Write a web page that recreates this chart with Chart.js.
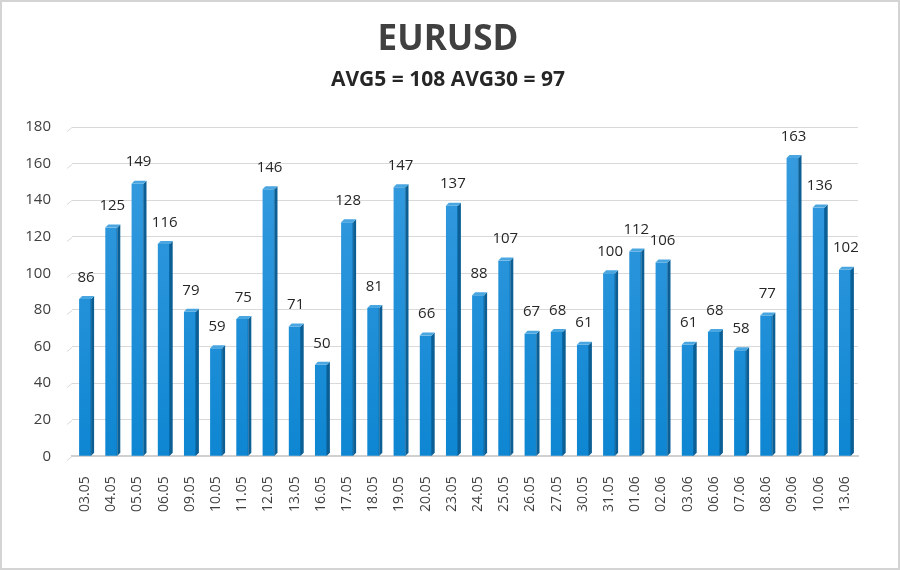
<!DOCTYPE html>
<html>
<head>
<meta charset="utf-8">
<script src="https://cdn.jsdelivr.net/npm/chart.js@4/dist/chart.umd.min.js"></script>
<style>
html,body{margin:0;padding:0;background:#fff;}
#wrap{position:relative;width:896px;height:566px;border:2px solid #d4d4d4;background:#fff;}
canvas{display:block;}
</style>
</head>
<body>
<div id="wrap"><canvas id="c" width="896" height="566"></canvas></div>
<script>
const titleText = "EURUSD";
const subtitleText = "AVG5 = 108 AVG30 = 97";
const categories = ["03.05","04.05","05.05","06.05","09.05","10.05","11.05","12.05","13.05","16.05","17.05","18.05","19.05","20.05","23.05","24.05","25.05","26.05","27.05","30.05","31.05","01.06","02.06","03.06","06.06","07.06","08.06","09.06","10.06","13.06"];
const values = [86,125,149,116,79,59,75,146,71,50,128,81,147,66,137,88,107,67,68,61,100,112,106,61,68,58,77,163,136,102];
const yTicks = [0,20,40,60,80,100,120,140,160,180];

const FONT = "'Open Sans', 'Noto Sans', sans-serif";

const titles = {
  id: 'titles',
  afterDraw(chart) {
    const ctx = chart.ctx;
    ctx.save();
    ctx.textAlign = 'center';
    ctx.textBaseline = 'middle';
    ctx.fillStyle = '#404040';
    ctx.font = "bold 35px " + FONT;
    ctx.fillText(titleText, 446, 38);
    ctx.fillStyle = '#262626';
    ctx.font = "bold 21px " + FONT;
    ctx.fillText(subtitleText, 446, 78);
    ctx.restore();
  }
};

// small perspective stubs at the left end of each grid line (3D wall look)
const gridStubs = {
  id: 'gridStubs',
  beforeDatasetsDraw(chart) {
    const ctx = chart.ctx;
    const y = chart.scales.y;
    const left = chart.chartArea.left;
    ctx.save();
    ctx.strokeStyle = '#d9d9d9';
    ctx.lineWidth = 1;
    y.ticks.forEach(t => {
      const py = Math.round(y.getPixelForValue(t.value)) + 0.5;
      ctx.beginPath();
      ctx.moveTo(left - 5, py + 4);
      ctx.lineTo(left, py);
      ctx.stroke();
    });
    ctx.restore();
  }
};

const bar3d = {
  id: 'bar3d',
  afterDatasetsDraw(chart) {
    const ctx = chart.ctx;
    const meta = chart.getDatasetMeta(0);
    const d = 3;
    ctx.save();
    meta.data.forEach((el, i) => {
      const w = el.width;
      const l = el.x - w / 2, r = el.x + w / 2;
      const top = el.y, bot = el.base;
      ctx.fillStyle = '#0b5f95';
      ctx.beginPath();
      ctx.moveTo(r, top);
      ctx.lineTo(r + d, top - d);
      ctx.lineTo(r + d, bot - d);
      ctx.lineTo(r, bot);
      ctx.closePath();
      ctx.fill();
      ctx.fillStyle = '#4aa6e0';
      ctx.beginPath();
      ctx.moveTo(l, top);
      ctx.lineTo(l + d, top - d);
      ctx.lineTo(r + d, top - d);
      ctx.lineTo(r, top);
      ctx.closePath();
      ctx.fill();
      ctx.fillStyle = '#262626';
      ctx.font = "15px " + FONT;
      ctx.textAlign = 'center';
      ctx.textBaseline = 'bottom';
      ctx.fillText(String(values[i]), el.x + 1, top - 14);
    });
    ctx.restore();
  }
};

const ctx = document.getElementById('c').getContext('2d');
new Chart(ctx, {
  type: 'bar',
  data: {
    labels: categories,
    datasets: [{
      data: values,
      backgroundColor: (c) => {
        const a = c.chart.chartArea;
        if (!a) return '#1a8ad4';
        const g = c.chart.ctx.createLinearGradient(0, a.top, 0, a.bottom);
        g.addColorStop(0, '#3a9de0');
        g.addColorStop(1, '#0e86d2');
        return g;
      },
      borderColor: '#0a6fb0',
      borderWidth: {left: 0, right: 1, top: 0, bottom: 0},
      barThickness: 12
    }]
  },
  options: {
    responsive: false,
    animation: false,
    layout: {padding: {left: 0, right: 40, top: 125, bottom: 36}},
    plugins: {
      legend: {display: false},
      tooltip: {enabled: false},
      title: {display: false},
      subtitle: {display: false}
    },
    scales: {
      x: {
        grid: {display: false, drawTicks: false},
        border: {display: true, color: '#d0d0d0', width: 2},
        ticks: {
          color: '#404040', font: {family: FONT, size: 14},
          maxRotation: 90, minRotation: 90, autoSkip: false, padding: 20
        }
      },
      y: {
        min: 0, max: 180,
        afterBuildTicks: (s) => { s.ticks = yTicks.map(v => ({value: v})); },
        afterFit: (s) => { s.width = 70; },
        grid: {color: '#d9d9d9', drawTicks: false, lineWidth: 1},
        border: {display: false},
        ticks: {color: '#404040', font: {family: FONT, size: 15}, padding: 21}
      }
    }
  },
  plugins: [gridStubs, bar3d, titles]
});
</script>
</body>
</html>
